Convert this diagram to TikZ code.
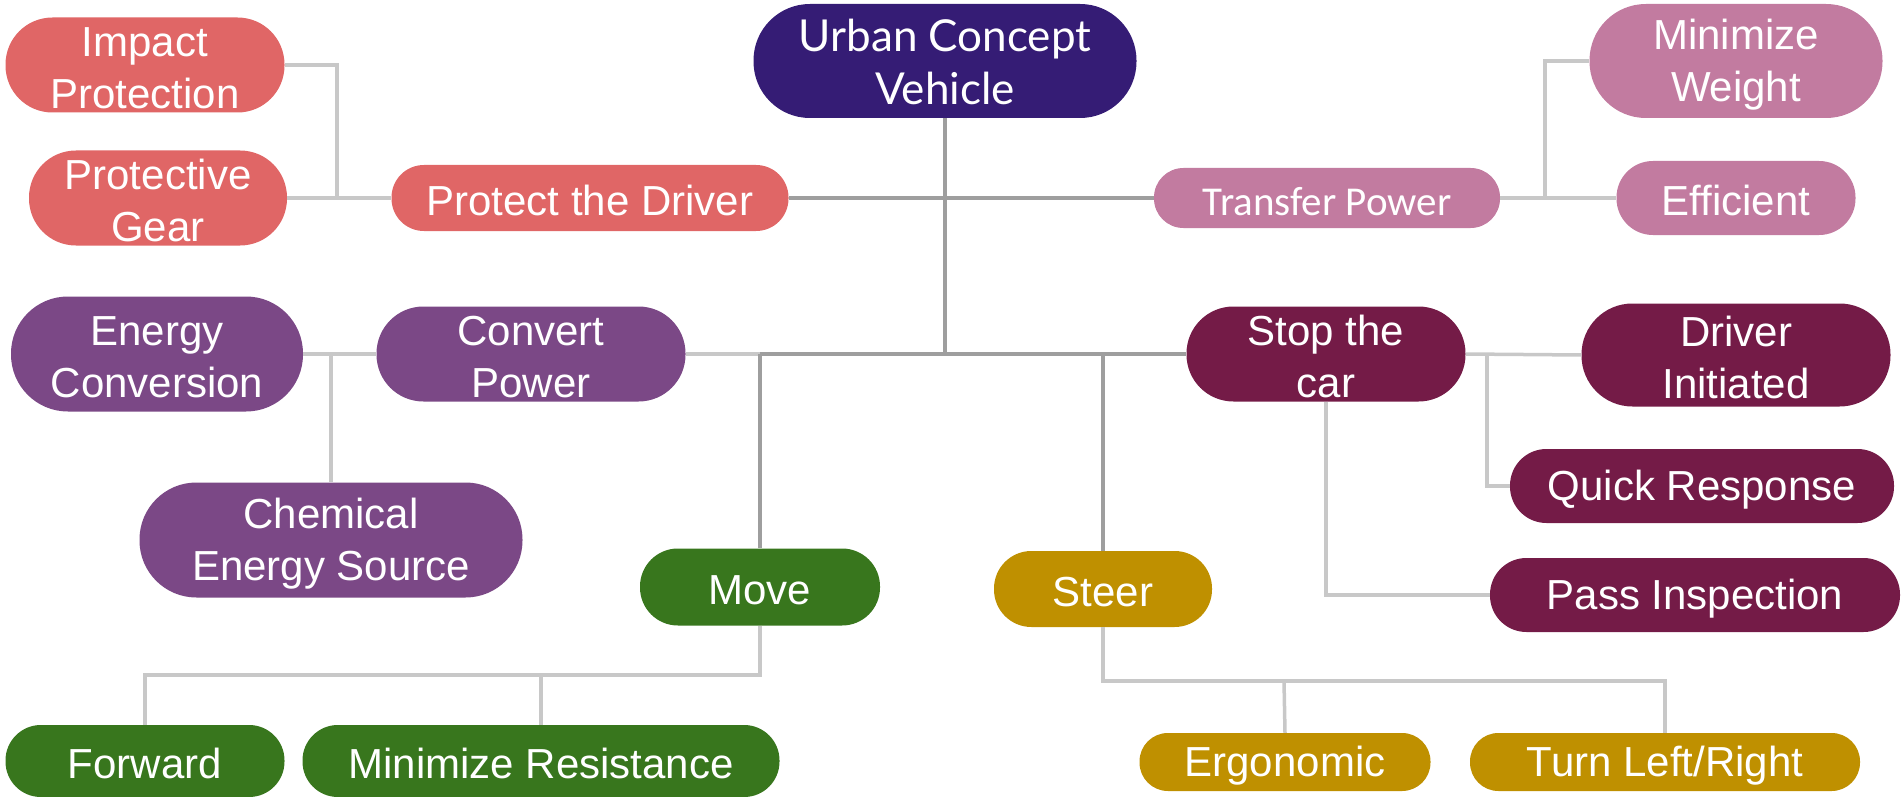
\documentclass[tikz,border=0pt]{standalone}
\usepackage{fontspec}
\setmainfont{Liberation Sans}
\newfontfamily\latofont{Lato}
\newfontfamily\carlitofont{Carlito}
\definecolor{cRed}{HTML}{E06666}
\definecolor{cIndigo}{HTML}{351C75}
\definecolor{cMauve}{HTML}{C27BA0}
\definecolor{cPlum}{HTML}{7B4886}
\definecolor{cWine}{HTML}{741B47}
\definecolor{cGreen}{HTML}{38761D}
\definecolor{cGold}{HTML}{BF9000}
\definecolor{lnDark}{HTML}{9E9E9E}
\definecolor{lnLight}{HTML}{C8C8C8}
% every line gets the same extent, so labels sit at a fixed height in their boxes
\newcommand\linestrut{\vrule height 38.5pt depth 4pt width 0pt}
\newcommand\lab[1]{\vbox{\let\\\cr\halign{\hfil\linestrut##\hfil\cr#1\crcr}}}
\tikzset{
  box/.style n args={3}{draw=none, fill=#1, text=white, inner sep=0pt,
    minimum width=#2, minimum height=#3, rounded corners=#3/2-0.6pt,
    font=\fontsize{42}{52}\selectfont},
  trunk/.style={draw=lnDark, line width=3.5pt},
  twig/.style={draw=lnLight, line width=3.5pt},
}
\begin{document}
\begin{tikzpicture}[x=1pt, y=-1pt]
\useasboundingbox (0,0) rectangle (1901,797);

% boxes
\node[box={cIndigo}{383pt}{114pt}, font=\latofont\fontsize{44}{53}\selectfont] (urban) at (945,61) {\lab{Urban Concept\\Vehicle}};

\node[box={cRed}{397pt}{66pt}] (protect) at (590,198) {\lab{Protect the Driver}};
\node[box={cRed}{279pt}{95pt}] (impact) at (145,65) {\lab{Impact\\Protection}};
\node[box={cRed}{258pt}{95pt}] (gear) at (158,198) {\lab{Protective\\Gear}};

\node[box={cMauve}{346pt}{60pt}, font=\carlitofont\fontsize{41}{50}\selectfont] (transfer) at (1327,198) {\lab{Transfer Power}};
\node[box={cMauve}{293pt}{114pt}] (weight) at (1736,61) {\lab{Minimize\\Weight}};
\node[box={cMauve}{239pt}{74pt}] (efficient) at (1736,198) {\lab{Efficient}};

\node[box={cPlum}{309pt}{95pt}] (convert) at (531,354) {\lab{Convert\\Power}};
\node[box={cPlum}{292pt}{115pt}] (energy) at (157,354) {\lab{Energy\\Conversion}};
\node[box={cPlum}{383pt}{115pt}] (chemical) at (331,540) {\lab{Chemical\\Energy Source}};

\node[box={cWine}{279pt}{95pt}] (stop) at (1326,354) {\lab{Stop the\\car}};
\node[box={cWine}{309pt}{103pt}] (driver) at (1736,355) {\lab{Driver\\Initiated}};
\node[box={cWine}{384pt}{74pt}] (quick) at (1702,486) {\lab{Quick Response}};
\node[box={cWine}{410pt}{74pt}] (pass) at (1695,595) {\lab{Pass Inspection}};

\node[box={cGreen}{240pt}{77pt}] (move) at (760,587) {\lab{Move}};
\node[box={cGreen}{279pt}{72pt}] (forward) at (145,761) {\lab{Forward}};
\node[box={cGreen}{477pt}{72pt}] (minres) at (541,761) {\lab{Minimize Resistance}};

\node[box={cGold}{218pt}{76pt}] (steer) at (1103,589) {\lab{Steer}};
\node[box={cGold}{291pt}{58pt}] (ergo) at (1285,762) {\lab{Ergonomic}};
\node[box={cGold}{390pt}{58pt}] (turn) at (1665,762) {\lab{Turn Left/Right}};

% junction points of the connectors
\coordinate (hub) at (945,354);
\coordinate (jmove) at (760,354);
\coordinate (jsteer) at (1103,354);
\coordinate (jprot) at (337,198);
\coordinate (jtrans) at (1545,198);
\coordinate (jconv) at (331,354);
\coordinate (jstop) at (1487,354);
\coordinate (jmovelow) at (760,675);
\coordinate (jminres) at (541,675);
\coordinate (jsteerlow) at (1103,681);
\coordinate (jergo) at (1284,681);

% main trunk
\path[trunk] (urban.south) -- (hub);
\path[trunk] (protect.east) -- (transfer.west);
\path[twig] (convert.east) -- (jmove);
\path[trunk] (jmove) -- (stop.west);
\path[trunk] (jmove) -- (move.north);
\path[trunk] (jsteer) -- (steer.north);

% protect the driver
\path[twig] (impact.east) -| (jprot) -- (protect.west);
\path[twig] (gear.east) -- (protect.west);

% transfer power
\path[twig] (transfer.east) -- (efficient.west);
\path[twig] (jtrans) |- (weight.west);

% convert power
\path[twig] (convert.west) -- (energy.east);
\path[twig] (jconv) -- (chemical.north);

% stop the car
\path[twig] (stop.east) -- (driver.west);
\path[twig] (jstop) |- (quick.west);
\path[twig] (stop.south) |- (pass.west);

% move
\path[twig] (move.south) -- (jmovelow) -| (forward.north);
\path[twig] (jminres) -- (minres.north);

% steer
\path[twig] (steer.south) -- (jsteerlow) -| (turn.north);
\path[twig] (jergo) -- (ergo.north);
\end{tikzpicture}
\end{document}
